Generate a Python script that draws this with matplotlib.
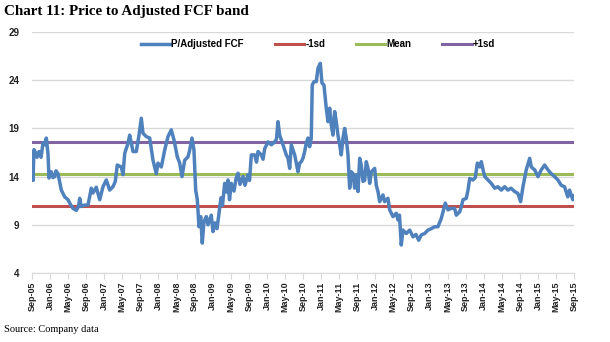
import numpy as np
import matplotlib
matplotlib.use("Agg")
import matplotlib.pyplot as plt

# months since Sep-05 and P/Adjusted FCF
months = [0, 0.1, 0.22, 0.44, 0.77, 1.1, 1.55, 2.0, 2.44, 2.88, 3.17, 3.54, 3.76, 4.27, 4.65,
          5.03, 5.31, 5.76, 6.49, 7.24, 7.97, 8.52, 9.08, 9.81, 10.3, 10.56, 10.91, 11.67,
          12.4, 13.13, 13.5, 14.23, 14.99, 15.72, 16.45, 17.2, 17.93, 18.44, 18.88, 19.77,
          20.15, 20.52, 21.25, 21.63, 22.36, 23.09, 23.69, 24.2, 24.57, 25.3, 26.06, 26.79,
          27.52, 27.89, 28.63, 29.38, 30.11, 30.84, 31.44, 32.17, 32.7, 33.21, 33.81, 34.54,
          34.91, 35.42, 35.86, 36.24, 36.6, 36.97, 37.35, 37.7, 38.08, 38.59, 38.96, 39.69,
          40.07, 40.51, 40.96, 41.4, 41.84, 42.17, 42.66, 43.06, 43.39, 43.73, 44.12, 44.72,
          45.17, 45.61, 46.05, 46.72, 47.16, 47.82, 48.16, 48.56, 49.31, 49.71, 50.04, 50.77,
          51.15, 51.52, 52.25, 52.98, 53.73, 54.13, 54.46, 54.84, 55.57, 56.3, 56.68, 57.05,
          57.41, 58.16, 58.56, 58.89, 59.27, 59.62, 59.99, 60.37, 60.72, 61.1, 61.47, 61.83,
          62.05, 62.43, 62.94, 63.32, 63.83, 64.2, 64.64, 65.15, 65.53, 65.91, 66.26, 66.64,
          67.01, 67.37, 67.74, 68.12, 68.47, 68.85, 69.22, 69.58, 69.96, 70.33, 70.69, 71.06,
          71.44, 71.8, 72.17, 72.55, 72.9, 73.28, 73.65, 74.01, 74.39, 74.76, 75.12, 75.87,
          76.22, 76.6, 76.98, 77.71, 78.08, 78.81, 79.19, 79.92, 80.65, 81.03, 81.36, 81.76,
          82.13, 82.86, 83.62, 84.35, 85.01, 85.61, 86.19, 86.94, 87.67, 88.4, 89.15, 89.88,
          90.61, 90.99, 91.5, 92.1, 92.76, 93.58, 93.94, 94.69, 95.05, 95.43, 96.16, 96.53,
          96.91, 97.64, 98.15, 98.6, 99.13, 99.48, 99.86, 100.24, 100.97, 101.68, 102.44,
          103.17, 103.9, 104.65, 105.38, 106.04, 106.86, 107.59, 108.19, 108.7, 109.43,
          110.19, 110.54, 111.29, 112.02, 112.75, 113.5, 114.23, 114.96, 115.71, 116.44,
          117.17, 117.9, 118.63, 119.01, 119.74, 120]
pfcf = [15.6, 16.5, 13.6, 16.8, 16.5, 16.0, 16.6, 16.0, 17.5, 17.3, 18.0, 16.4, 13.85, 14.5, 13.9,
        14.0, 14.6, 14.3, 12.6, 11.9, 11.6, 11.1, 10.7, 10.5, 10.9, 11.75, 10.9, 11.05,
        11.05, 12.8, 12.3, 12.9, 11.6, 12.95, 13.65, 12.6, 12.95, 13.5, 15.2, 15.0,
        14.2, 16.4, 17.45, 18.3, 16.6, 16.6, 18.3, 20.05, 18.5, 18.15, 18.0, 15.7,
        14.3, 15.4, 15.0, 16.75, 18.15, 18.85, 17.8, 16.05, 15.4, 14.0, 15.7, 16.05,
        16.75, 18.0, 16.75, 12.6, 11.6, 8.8, 9.85, 7.1, 9.35, 9.85, 9.0, 10.0,
        8.3, 9.2, 8.6, 10.2, 11.8, 11.0, 13.3, 12.4, 13.65, 11.6, 13.3, 12.5,
        13.8, 14.35, 13.2, 14.0, 13.1, 14.2, 13.6, 16.25, 16.25, 15.5, 16.6, 16.25,
        15.8, 16.9, 17.6, 17.3, 17.6, 17.9, 19.7, 18.3, 17.3, 16.25, 15.9, 14.85,
        17.3, 16.25, 15.3, 14.5, 15.4, 15.55, 15.9, 16.6, 17.45, 18.0, 17.1, 18.0,
        23.5, 23.85, 23.85, 25.25, 25.75, 23.7, 23.5, 21.1, 19.7, 21.1, 19.35, 18.3,
        20.75, 19.7, 18.3, 17.3, 16.25, 18.0, 19.0, 18.0, 16.25, 12.8, 14.5, 14.3,
        12.8, 14.2, 12.45, 15.9, 15.2, 13.5, 13.6, 15.55, 14.85, 13.3, 14.5, 14.85,
        13.1, 12.45, 11.4, 12.1, 11.4, 11.75, 10.55, 9.85, 10.2, 9.5, 10.0, 6.9,
        8.45, 8.1, 8.45, 7.75, 8.0, 7.4, 7.95, 8.1, 8.45, 8.6, 8.8, 8.8,
        9.65, 10.35, 11.25, 10.55, 10.7, 10.7, 10.0, 10.35, 10.9, 11.6, 11.75, 12.6,
        13.8, 13.65, 13.9, 15.4, 15.0, 15.55, 14.7, 14.0, 13.65, 13.3, 12.8,
        12.95, 12.6, 12.95, 12.6, 12.8, 12.45, 12.25, 11.4, 12.95, 14.7,
        15.9, 15.0, 14.7, 14.0, 14.7, 15.2, 14.7, 14.3, 14.0, 13.65,
        13.1, 12.95, 11.9, 12.6, 11.6, 12.0]

mean_val = 14.28
sd_val = 3.32

tick_labels = []
for yr in range(5, 16):
    for mon in ["Jan", "May", "Sep"]:
        tick_labels.append(f"{mon}-{yr:02d}")
tick_labels = tick_labels[2:]  # start at Sep-05, end at Sep-15

fig = plt.figure(figsize=(6.1, 3.42), dpi=100)
ax = fig.add_axes([32 / 610, 1 - 273 / 342, 542 / 610, 241 / 342])

x = np.array(months)
ax.plot(x, pfcf, color="#4F81BD", lw=2.5, label="P/Adjusted FCF", zorder=3)
ax.plot([0, 120], [mean_val - sd_val] * 2, color="#C0504D", lw=2.2, label="-1sd", zorder=2)
ax.plot([0, 120], [mean_val] * 2, color="#9BBB59", lw=2.2, label="Mean", zorder=2)
ax.plot([0, 120], [mean_val + sd_val] * 2, color="#8064A2", lw=2.2, label="+1sd", zorder=2)

ax.set_xlim(0, 120)
ax.set_ylim(4, 29)
ax.set_yticks([4, 9, 14, 19, 24, 29])
ax.set_xticks(np.arange(0, 121, 4))
ax.set_xticklabels(tick_labels, rotation=90, fontsize=6.5, fontweight="bold",
                   family="Liberation Sans", color="#222222")
for lab in ax.get_yticklabels():
    lab.set_fontsize(7)
    lab.set_fontweight("bold")
    lab.set_family("Liberation Sans")
    lab.set_color("#222222")

ax.grid(axis="y", color="#D9D9D9", lw=1)
ax.set_axisbelow(True)
for s in ["top", "right", "left"]:
    ax.spines[s].set_visible(False)
ax.spines["bottom"].set_color("#D9D9D9")
ax.tick_params(axis="y", length=0, pad=9)
ax.tick_params(axis="x", length=4, color="#D9D9D9", pad=2)

fig.legend(loc="center", bbox_to_anchor=(318 / 610, 1 - 44 / 342), ncol=4, frameon=False,
           handlelength=3, handletextpad=0.1, columnspacing=3.2,
           prop={"family": "Liberation Sans", "weight": "bold", "size": 7})

fig.text(4 / 610, 1 - 12 / 342, "Chart 11: Price to Adjusted FCF band", family="Liberation Serif",
         fontweight="bold", fontsize=10.8, va="center", ha="left")
fig.text(4 / 610, 1 - 330 / 342, "Source: Company data", family="Liberation Serif",
         fontsize=7.5, va="center", ha="left")

fig.savefig("out.png", dpi=100)
